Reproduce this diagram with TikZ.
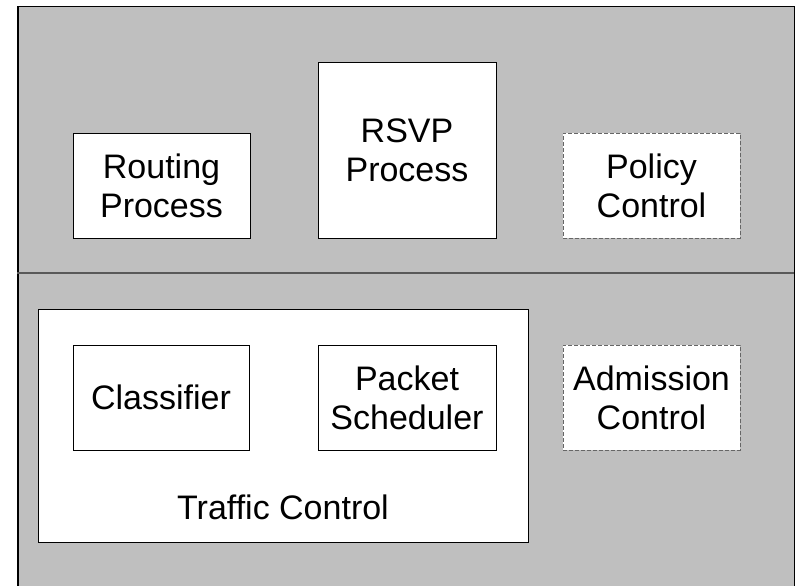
\documentclass[tikz,border=0pt]{standalone}
\usepackage{fontspec}
\setmainfont{Liberation Sans}
\begin{document}
\begin{tikzpicture}[x=1pt,y=-1pt,
  lbl/.style={font=\fontsize{34}{39}\selectfont, align=center, inner sep=0pt},
  box/.style={lbl, draw=black, line width=1pt, fill=white},
  dbox/.style={lbl, draw=black!60, line width=1pt, dashed, dash pattern=on 4pt off 2pt, fill=white}]
  \useasboundingbox (0,0) rectangle (795,586);
  % background panel split into two layers
  \node[draw=black, line width=1.5pt, fill=black!25, minimum width=777pt, minimum height=600pt, anchor=north west, inner sep=0pt] (panel) at (17,6) {};
  \coordinate (divl) at (17,273);
  \coordinate (divr) at (794,273);
  \draw[black!65, line width=2pt] (divl) -- (divr);
  % upper layer
  \node[box, minimum width=177pt, minimum height=105pt] (routing) at (161.5,185.5) {Routing\\Process};
  \node[box, minimum width=178pt, minimum height=175pt] (rsvp) at (407,150.5) {RSVP\\Process};
  \node[dbox, minimum width=177pt, minimum height=105pt] (policy) at (651.5,185.5) {Policy\\Control};
  % lower layer
  \node[box, minimum width=490pt, minimum height=233pt] (traffic) at (283.5,425.5) {};
  \node[lbl, anchor=base] (tclabel) at (283,519) {Traffic Control};
  \node[box, minimum width=176pt, minimum height=105pt] (classifier) at (161,397.5) {Classifier};
  \node[box, minimum width=178pt, minimum height=105pt] (scheduler) at (407,397.5) {Packet\\Scheduler};
  \node[dbox, minimum width=177pt, minimum height=105pt] (admission) at (651.5,397.5) {Admission\\Control};
\end{tikzpicture}
\end{document}
